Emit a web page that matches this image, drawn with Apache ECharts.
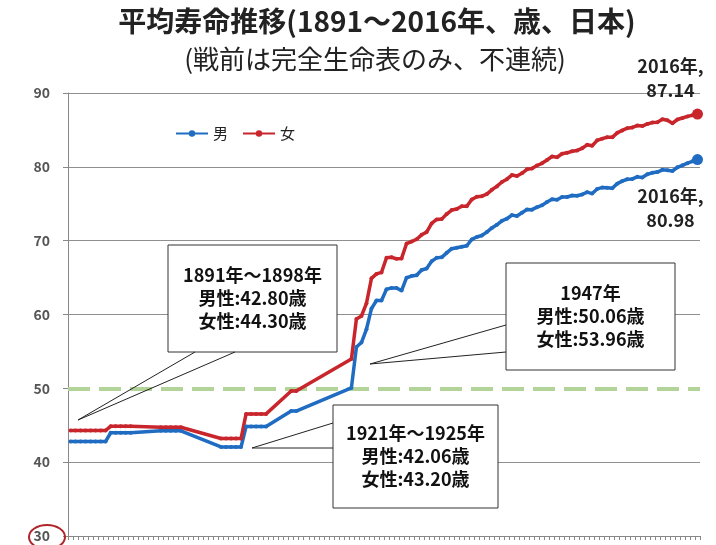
<!DOCTYPE html>
<html>
<head>
<meta charset="utf-8">
<script src="https://cdn.jsdelivr.net/npm/echarts@6/dist/echarts.min.js"></script>
<style>
html,body{margin:0;padding:0;background:#fff;}
#c{width:716px;height:545px;}
</style>
</head>
<body>
<div id="c"></div>
<script>
// Pre-war complete life tables (periods)
const periodStart  = [1891, 1899, 1909, 1921, 1926, 1935];
const periodEnd    = [1898, 1903, 1913, 1925, 1930, 1936];
const periodMale   = [42.80, 43.97, 44.25, 42.06, 44.82, 46.92];
const periodFemale = [44.30, 44.85, 44.73, 43.20, 46.54, 49.63];

// Post-war annual values 1947..2016
const postStart = 1947;
const postMale = [50.06,55.60,56.20,58.00,60.80,61.90,61.90,63.41,63.60,63.59,
  63.24,64.98,65.21,65.32,66.03,66.23,67.21,67.67,67.74,68.35,
  68.91,69.05,69.18,69.31,70.17,70.50,70.70,71.16,71.73,72.15,
  72.69,72.97,73.46,73.35,73.79,74.22,74.20,74.54,74.78,75.23,
  75.61,75.54,75.91,75.92,76.11,76.09,76.25,76.57,76.38,77.01,
  77.19,77.16,77.10,77.72,78.07,78.32,78.36,78.64,78.56,79.00,
  79.19,79.29,79.59,79.55,79.44,79.94,80.21,80.50,80.75,80.98];
const postFemale = [53.96,59.40,59.80,61.50,64.90,65.50,65.70,67.69,67.75,67.54,
  67.60,69.61,69.88,70.19,70.79,71.16,72.34,72.87,72.92,73.61,
  74.15,74.30,74.67,74.66,75.58,75.94,76.02,76.31,76.89,77.35,
  77.95,78.33,78.89,78.76,79.13,79.66,79.78,80.18,80.48,80.93,
  81.39,81.30,81.77,81.90,82.11,82.22,82.51,82.98,82.85,83.59,
  83.82,84.01,83.99,84.60,84.93,85.23,85.33,85.59,85.52,85.81,
  85.99,86.05,86.44,86.30,85.90,86.41,86.61,86.83,86.99,87.14];

const firstYear = 1891, lastYear = 2016;
const seriesNames = ['男', '女'];
const titleText = '平均寿命推移(1891～2016年、歳、日本)';
const subText = '(戦前は完全生命表のみ、不連続)';
const yTicks = {min: 30, max: 90, interval: 10};
const refLine = 50;

// build category axis and per-year series
const years = [];
for (let y = firstYear; y <= lastYear; y++) years.push(String(y));
function build(periodVals, postVals) {
  const out = years.map(() => null);
  periodStart.forEach((s, i) => {
    for (let y = s; y <= periodEnd[i]; y++) out[y - firstYear] = periodVals[i];
  });
  postVals.forEach((v, i) => { out[postStart + i - firstYear] = v; });
  return out;
}
const maleData = build(periodMale, postMale);
const femaleData = build(periodFemale, postFemale);

const blue = '#1f6cc2', red = '#c8262c';
const FONT = '"Noto Sans CJK JP", "Noto Sans", sans-serif';
const endStyle = {fontFamily: FONT, fontWeight: 'bold', fontSize: 18, color: '#222', lineHeight: 24, align: 'center'};

function withEnd(data, labelOpt) {
  return data.map((v, i) => {
    if (i !== data.length - 1) return v;
    return {
      value: v, symbolSize: 11,
      label: Object.assign({
        show: true,
        formatter: (p) => '{e|' + years[p.dataIndex] + '年,}\n{e|' + Number(p.value).toFixed(2) + '}',
        rich: {e: endStyle}
      }, endStyle, labelOpt)
    };
  });
}

const chart = echarts.init(document.getElementById('c'), null, {renderer: 'canvas'});

function callout(box, wedge, text) {
  return [
    {type: 'rect', z: 100, shape: box, style: {fill: '#fff', stroke: '#333', lineWidth: 1}},
    {type: 'polyline', z: 101, shape: {points: wedge}, style: {fill: null, stroke: '#222', lineWidth: 1}},
    {type: 'text', z: 102, x: box.x + box.width / 2, y: box.y + box.height / 2,
      style: {text: text, font: 'bold 18px ' + FONT, fill: '#111', align: 'center',
        verticalAlign: 'middle', lineHeight: 23}}
  ];
}

chart.setOption({
  animation: false,
  backgroundColor: '#fff',
  title: [{
    text: titleText, left: 372, top: 2, textAlign: 'center',
    textStyle: {fontFamily: FONT, fontSize: 28, fontWeight: 'bold', color: '#222'}
  }, {
    text: subText, left: 370, top: 41, textAlign: 'center',
    textStyle: {fontFamily: FONT, fontSize: 26, fontWeight: 'normal', color: '#222'}
  }],
  legend: {
    left: 170, top: 121, itemWidth: 32, itemHeight: 8, itemGap: 14,
    textStyle: {fontFamily: FONT, fontSize: 15, color: '#222'},
    data: seriesNames
  },
  grid: {left: 68, right: 16, top: 93, bottom: 9, containLabel: false},
  xAxis: {
    type: 'category', data: years, boundaryGap: true,
    axisLine: {lineStyle: {color: '#888'}},
    axisTick: {show: true, interval: 0, length: 4, lineStyle: {color: '#888'}},
    axisLabel: {show: false},
    splitLine: {show: false}
  },
  yAxis: {
    type: 'value', min: yTicks.min, max: yTicks.max, interval: yTicks.interval,
    axisLine: {show: true, lineStyle: {color: '#888'}},
    axisTick: {show: true, length: 5, lineStyle: {color: '#888'}},
    axisLabel: {fontFamily: FONT, fontSize: 14, fontWeight: 'bold', color: '#555', margin: 18},
    splitLine: {lineStyle: {color: '#8f8f8f', width: 1}}
  },
  series: [{
    name: seriesNames[0], type: 'line', data: withEnd(maleData, {position: 'bottom', offset: [-27, 14]}),
    connectNulls: true, color: blue, showSymbol: true, showAllSymbol: true,
    lineStyle: {width: 3.5, color: blue}, symbol: 'circle', symbolSize: 4,
    itemStyle: {color: blue}, z: 3,
    markLine: {
      silent: true, symbol: ['none', 'none'], label: {show: false}, z: 2,
      data: [
        {yAxis: refLine, lineStyle: {color: '#fff', type: 'solid', width: 2}},
        {yAxis: refLine, lineStyle: {color: '#b2d498', type: [22, 9], width: 4}}
      ]
    }
  }, {
    name: seriesNames[1], type: 'line', data: withEnd(femaleData, {position: 'top', offset: [-27, -1]}),
    connectNulls: true, color: red, showSymbol: true, showAllSymbol: true,
    lineStyle: {width: 3.5, color: red}, symbol: 'circle', symbolSize: 4,
    itemStyle: {color: red}, z: 3
  }],
  graphic: [].concat(
    callout({x: 168, y: 245, width: 169, height: 107}, [[195, 352], [78, 420], [235, 352]],
      '1891年～1898年\n男性:42.80歳\n女性:44.30歳'),
    callout({x: 506, y: 263, width: 169, height: 107}, [[506, 325], [370, 364], [506, 352]],
      '1947年\n男性:50.06歳\n女性:53.96歳'),
    callout({x: 333, y: 405, width: 165, height: 103}, [[333, 423], [252, 448], [333, 448]],
      '1921年～1925年\n男性:42.06歳\n女性:43.20歳'),
    [{type: 'ellipse', z: 100, shape: {cx: 47, cy: 537, rx: 18, ry: 12},
      style: {fill: null, stroke: '#b0242a', lineWidth: 2}}]
  )
});
</script>
</body>
</html>
